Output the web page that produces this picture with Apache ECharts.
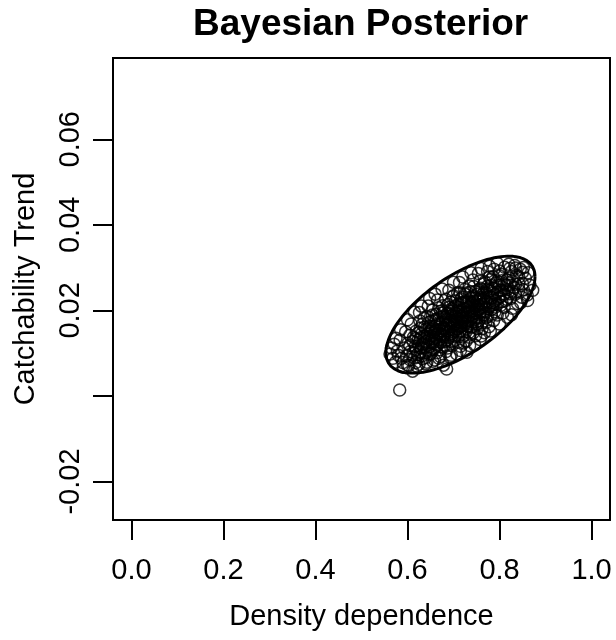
<!DOCTYPE html>
<html>
<head>
<meta charset="utf-8">
<title>Bayesian Posterior</title>
<script src="https://cdn.jsdelivr.net/npm/echarts@6.0.0/dist/echarts.min.js"></script>
<style>
  html, body { margin: 0; padding: 0; background: #fff; }
  #chart { width: 616px; height: 640px; }
</style>
</head>
<body>
<div id="chart"></div>
<script>
// Axis ranges and ticks
const xRange = [-0.04, 1.04];
const yRange = [-0.029, 0.079];
const xTicks = [0, 0.2, 0.4, 0.6, 0.8, 1.0];
const yTicks = [-0.02, 0, 0.02, 0.04, 0.06];
const yTickLabels = [-0.02, 0.02, 0.04, 0.06];

// Posterior draws: [density dependence, catchability trend]
const posteriorDraws = [
  [0.562,0.0098],[0.571,0.0121],[0.574,0.0079],[0.578,0.0105],
  [0.583,0.0014],[0.584,0.0131],[0.587,0.0088],[0.591,0.0067],[0.593,0.0112],[0.596,0.0150],[0.598,0.0094],
  [0.601,0.0123],[0.603,0.0071],[0.606,0.0104],[0.608,0.0168],[0.611,0.0058],[0.613,0.0137],[0.615,0.0089],[0.617,0.0116],[0.619,0.0152],
  [0.621,0.0097],[0.623,0.0131],[0.625,0.0074],[0.627,0.0175],[0.629,0.0112],[0.631,0.0146],[0.633,0.0087],[0.635,0.0124],[0.637,0.0161],[0.639,0.0101],[0.626,0.0195],
  [0.641,0.0138],[0.642,0.0079],[0.644,0.0119],[0.646,0.0172],[0.648,0.0097],[0.650,0.0151],[0.652,0.0128],[0.654,0.0189],[0.656,0.0108],[0.657,0.0141],[0.659,0.0084],[0.660,0.0163],[0.645,0.0210],
  [0.661,0.0122],[0.663,0.0179],[0.664,0.0101],[0.666,0.0147],[0.668,0.0206],[0.669,0.0131],[0.671,0.0092],[0.672,0.0168],[0.674,0.0115],[0.675,0.0194],[0.677,0.0139],[0.678,0.0072],[0.679,0.0158],[0.665,0.0224],
  [0.681,0.0127],[0.682,0.0183],[0.684,0.0104],[0.685,0.0063],[0.686,0.0152],[0.688,0.0214],[0.689,0.0136],[0.691,0.0171],[0.692,0.0091],[0.694,0.0198],[0.695,0.0145],[0.697,0.0118],[0.698,0.0232],[0.699,0.0162],[0.690,0.0247],
  [0.701,0.0129],[0.702,0.0186],[0.704,0.0153],[0.705,0.0211],[0.707,0.0098],[0.708,0.0174],[0.709,0.0241],[0.711,0.0139],[0.712,0.0196],[0.714,0.0162],[0.715,0.0116],[0.716,0.0227],[0.718,0.0181],[0.719,0.0145],[0.713,0.0265],
  [0.721,0.0205],[0.722,0.0124],[0.724,0.0168],[0.725,0.0238],[0.727,0.0189],[0.728,0.0151],[0.729,0.0102],[0.731,0.0219],[0.732,0.0176],[0.734,0.0257],[0.735,0.0137],[0.736,0.0198],[0.738,0.0161],[0.739,0.0229],
  [0.741,0.0184],[0.742,0.0271],[0.743,0.0148],[0.745,0.0212],[0.746,0.0119],[0.748,0.0244],[0.749,0.0173],[0.751,0.0201],[0.752,0.0158],[0.754,0.0286],[0.755,0.0226],[0.757,0.0189],[0.758,0.0132],[0.759,0.0252],
  [0.761,0.0214],[0.762,0.0171],[0.764,0.0238],[0.765,0.0196],[0.767,0.0148],[0.768,0.0267],[0.770,0.0221],[0.771,0.0183],[0.773,0.0249],[0.774,0.0291],[0.776,0.0204],[0.777,0.0162],[0.779,0.0233],
  [0.781,0.0272],[0.782,0.0191],[0.784,0.0218],[0.785,0.0251],[0.787,0.0176],[0.788,0.0296],[0.790,0.0237],[0.791,0.0208],[0.793,0.0264],[0.795,0.0189],[0.797,0.0228],[0.799,0.0281],
  [0.801,0.0247],[0.803,0.0212],[0.805,0.0269],[0.807,0.0194],[0.809,0.0236],[0.811,0.0301],[0.813,0.0223],[0.815,0.0259],[0.817,0.0184],[0.819,0.0243],
  [0.821,0.0276],[0.824,0.0228],[0.826,0.0291],[0.828,0.0205],[0.831,0.0254],[0.834,0.0238],[0.837,0.0282],[0.839,0.0216],
  [0.842,0.0262],[0.845,0.0296],[0.848,0.0231],[0.852,0.0248],[0.856,0.0275],[0.861,0.0223],[0.866,0.0259],[0.872,0.0247],
  [0.668,0.0161],[0.673,0.0144],[0.679,0.0187],[0.683,0.0166],[0.687,0.0131],[0.693,0.0177],[0.696,0.0203],[0.700,0.0149],
  [0.703,0.0169],[0.706,0.0192],[0.710,0.0158],[0.713,0.0207],[0.717,0.0171],[0.720,0.0186],[0.723,0.0219],[0.726,0.0157],
  [0.730,0.0195],[0.733,0.0208],[0.737,0.0179],[0.740,0.0216],[0.744,0.0193],[0.747,0.0229],[0.750,0.0182],[0.753,0.0214],
  [0.756,0.0203],[0.760,0.0231],[0.763,0.0189],[0.766,0.0217],[0.652,0.0156],[0.658,0.0133],
  [0.605,0.0118],[0.605,0.0142],[0.605,0.0085],[0.612,0.0101],[0.612,0.0127],
  [0.618,0.0134],[0.618,0.0078],[0.618,0.0109],[0.624,0.0148],[0.624,0.0118],[0.624,0.0091],
  [0.628,0.0136],[0.628,0.0158],[0.628,0.0103],[0.632,0.0121],[0.632,0.0167],[0.632,0.0094],
  [0.636,0.0139],[0.636,0.0112],[0.636,0.0181],[0.640,0.0127],[0.640,0.0156],[0.640,0.0090],
  [0.643,0.0145],[0.643,0.0108],[0.643,0.0186],[0.647,0.0132],[0.647,0.0163],[0.647,0.0115],
  [0.651,0.0174],[0.651,0.0099],[0.651,0.0140],[0.655,0.0124],[0.655,0.0159],[0.655,0.0201],
  [0.658,0.0149],[0.658,0.0112],[0.658,0.0178],[0.662,0.0137],[0.662,0.0191],[0.662,0.0155],
  [0.665,0.0119],[0.665,0.0169],[0.665,0.0144],[0.669,0.0182],[0.669,0.0153],[0.669,0.0108],
  [0.672,0.0139],[0.672,0.0198],[0.672,0.0125],[0.676,0.0173],[0.676,0.0152],[0.676,0.0211],
  [0.680,0.0143],[0.680,0.0119],[0.680,0.0196],[0.683,0.0178],[0.683,0.0157],[0.683,0.0226],
  [0.687,0.0167],[0.687,0.0193],[0.687,0.0112],[0.690,0.0149],[0.690,0.0184],[0.690,0.0207],
  [0.694,0.0161],[0.694,0.0127],[0.694,0.0219],[0.697,0.0188],[0.697,0.0172],[0.697,0.0141],
  [0.700,0.0201],[0.700,0.0166],[0.700,0.0234],[0.704,0.0178],[0.704,0.0139],[0.704,0.0222],
  [0.707,0.0199],[0.707,0.0157],[0.707,0.0183],[0.710,0.0214],[0.710,0.0172],[0.710,0.0126],
  [0.714,0.0186],[0.714,0.0241],[0.714,0.0151],[0.717,0.0197],[0.717,0.0163],[0.717,0.0218],
  [0.720,0.0174],[0.720,0.0231],[0.720,0.0138],[0.724,0.0202],[0.724,0.0185],[0.724,0.0249],
  [0.727,0.0173],[0.727,0.0219],[0.727,0.0128],[0.730,0.0207],[0.730,0.0163],[0.730,0.0241],
  [0.734,0.0186],[0.734,0.0222],[0.734,0.0149],[0.737,0.0211],[0.737,0.0243],[0.737,0.0169],
  [0.741,0.0199],[0.741,0.0162],[0.741,0.0233],[0.744,0.0221],[0.744,0.0178],[0.744,0.0256],
  [0.748,0.0194],[0.748,0.0209],[0.748,0.0141],[0.751,0.0237],[0.751,0.0168],[0.751,0.0222],
  [0.755,0.0211],[0.755,0.0248],[0.755,0.0176],[0.758,0.0196],[0.758,0.0229],[0.758,0.0268],
  [0.762,0.0207],[0.762,0.0249],[0.762,0.0157],[0.766,0.0228],[0.766,0.0189],[0.766,0.0262],
  [0.770,0.0203],[0.770,0.0241],[0.770,0.0171],[0.774,0.0219],[0.774,0.0257],[0.774,0.0186],
  [0.778,0.0247],[0.778,0.0209],[0.778,0.0278],[0.782,0.0229],[0.782,0.0258],[0.782,0.0202],
  [0.786,0.0241],[0.786,0.0214],[0.786,0.0279],[0.790,0.0252],[0.790,0.0221],[0.790,0.0197],
  [0.795,0.0243],[0.795,0.0268],[0.795,0.0213],[0.800,0.0259],[0.800,0.0231],[0.800,0.0292],
  [0.805,0.0247],[0.805,0.0221],[0.805,0.0284],[0.810,0.0262],[0.810,0.0239],[0.810,0.0207],
  [0.816,0.0271],[0.816,0.0248],[0.816,0.0226],[0.822,0.0259],[0.822,0.0298],[0.822,0.0239],
  [0.828,0.0268],[0.828,0.0245],[0.835,0.0261],[0.835,0.0299],[0.842,0.0247],[0.842,0.0278],
  [0.850,0.0262],[0.850,0.0289],
  // draws near the upper rim
  [0.585,0.0155],[0.600,0.0178],[0.615,0.0196],[0.630,0.0210],[0.648,0.0228],[0.660,0.0238],[0.675,0.0250],
  [0.700,0.0266],[0.720,0.0278],[0.738,0.0288],[0.760,0.0298],[0.778,0.0303],[0.795,0.0310],[0.820,0.0308],
  [0.833,0.0305],[0.852,0.0300],[0.862,0.0288],
  // draws near the lower rim
  [0.590,0.0078],[0.600,0.0072],[0.620,0.0070],[0.640,0.0075],[0.655,0.0081],[0.668,0.0088],[0.695,0.0095],
  [0.715,0.0106],[0.735,0.0118],[0.760,0.0140],[0.780,0.0152],[0.800,0.0168],[0.826,0.0190],[0.846,0.0218],[0.860,0.0236],
  // draws at the left tip
  [0.565,0.0112],[0.568,0.0088],[0.575,0.0135],[0.580,0.0095]
];

// Confidence ellipse of the draws: centre, half-extents along each axis, correlation
const ellipseCenter = [0.715, 0.0190];
const ellipseHalfExtent = [0.162, 0.01367];
const ellipseCorrelation = 0.65;
const ellipseSegments = 120;

function ellipsePath() {
  const pts = [];
  const r = ellipseCorrelation;
  const s = Math.sqrt(1 - r * r);
  for (let i = 0; i <= ellipseSegments; i++) {
    const t = (2 * Math.PI * i) / ellipseSegments;
    const c = Math.cos(t), sn = Math.sin(t);
    pts.push([
      ellipseCenter[0] + ellipseHalfExtent[0] * c,
      ellipseCenter[1] + ellipseHalfExtent[1] * (r * c + s * sn)
    ]);
  }
  return pts;
}

const font = 'Liberation Sans, Arial, sans-serif';
const chart = echarts.init(document.getElementById('chart'), null, { renderer: 'canvas' });

chart.setOption({
  animation: false,
  backgroundColor: '#fff',
  title: {
    text: 'Bayesian Posterior',
    left: 193,
    top: 6,
    padding: 0,
    textStyle: { fontFamily: font, fontSize: 37, fontWeight: 'bold', color: '#000' }
  },
  grid: {
    left: 113, right: 6, top: 58, bottom: 120,
    show: true, borderColor: '#000', borderWidth: 2, backgroundColor: 'transparent'
  },
  xAxis: {
    type: 'value',
    min: xRange[0], max: xRange[1],
    name: 'Density dependence',
    nameLocation: 'middle',
    nameGap: 82,
    nameTextStyle: { fontFamily: font, fontSize: 29, color: '#000' },
    axisLine: { show: false, onZero: false },
    splitLine: { show: false },
    axisTick: {
      show: true, inside: false, length: 20,
      customValues: xTicks,
      lineStyle: { color: '#000', width: 2 }
    },
    axisLabel: {
      show: true, margin: 36,
      customValues: xTicks,
      formatter: v => v.toFixed(1),
      fontFamily: font, fontSize: 29, color: '#000'
    }
  },
  yAxis: {
    type: 'value',
    min: yRange[0], max: yRange[1],
    name: 'Catchability Trend',
    nameLocation: 'middle',
    nameRotate: 90,
    nameGap: 73,
    nameTextStyle: { fontFamily: font, fontSize: 29, color: '#000' },
    axisLine: { show: false, onZero: false },
    splitLine: { show: false },
    axisTick: {
      show: true, inside: false, length: 20,
      customValues: yTicks,
      lineStyle: { color: '#000', width: 2 }
    },
    axisLabel: {
      show: true, margin: 28, rotate: 90,
      customValues: yTickLabels,
      formatter: v => v.toFixed(2),
      fontFamily: font, fontSize: 29, color: '#000'
    }
  },
  series: [
    {
      name: 'Posterior draws',
      type: 'scatter',
      data: posteriorDraws,
      symbol: 'circle',
      symbolSize: 12,
      itemStyle: { color: 'rgba(0,0,0,0)', borderColor: '#000', borderWidth: 1.5 },
      emphasis: { disabled: true },
      z: 2
    },
    {
      name: 'Confidence ellipse',
      type: 'line',
      data: ellipsePath(),
      showSymbol: false,
      symbol: 'none',
      smooth: false,
      lineStyle: { color: '#000', width: 3 },
      emphasis: { disabled: true },
      z: 3
    }
  ]
});
</script>
</body>
</html>
